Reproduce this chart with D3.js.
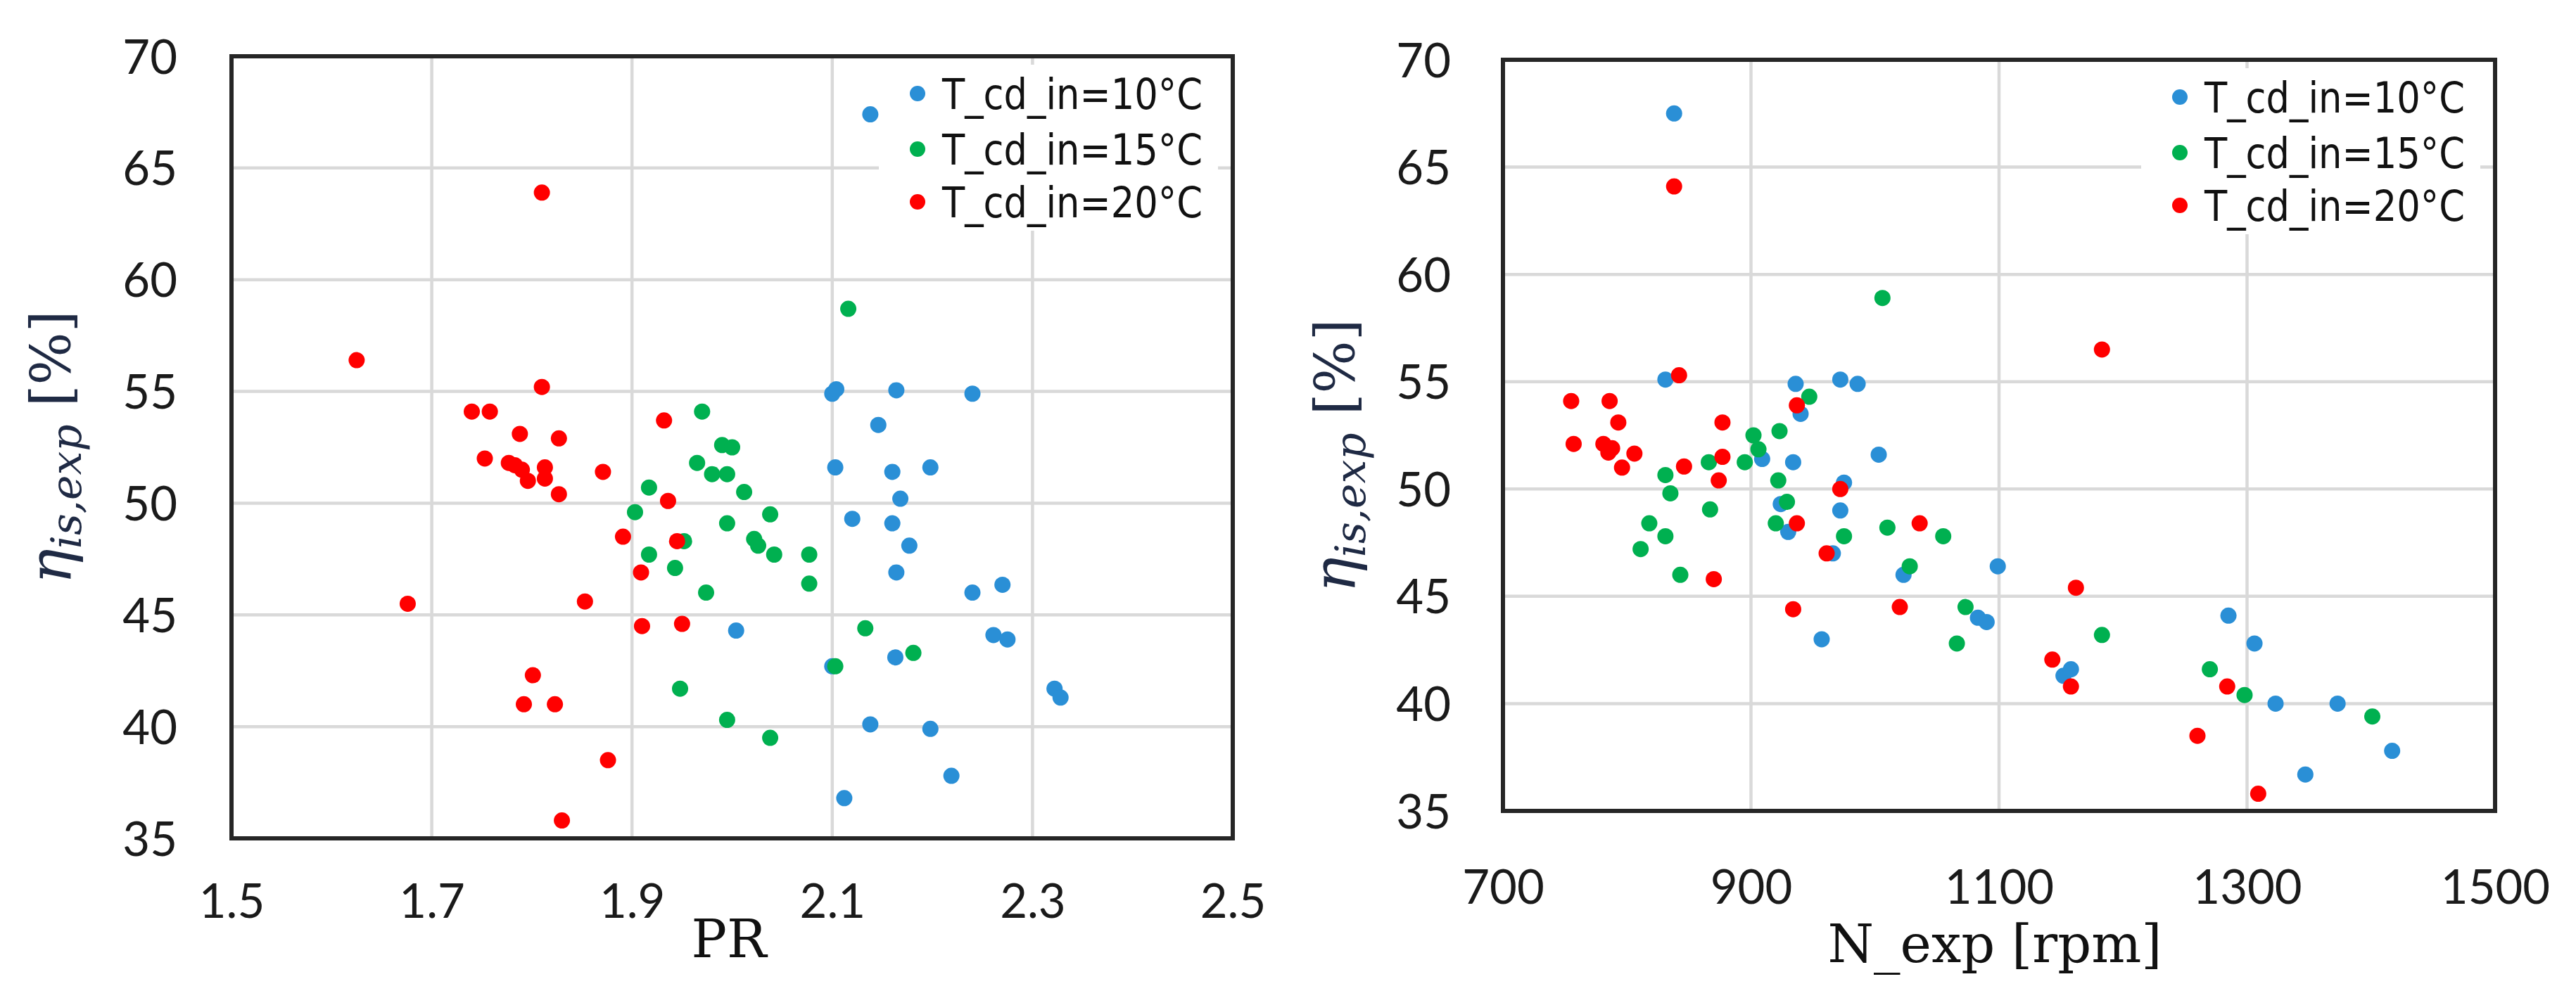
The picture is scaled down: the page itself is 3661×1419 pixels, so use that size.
<!DOCTYPE html>
<html>
<head>
<meta charset="utf-8">
<script src="https://cdn.jsdelivr.net/npm/d3@7"></script>
<style>
  body { margin: 0; background: #fff; }
  svg { display: block; }
</style>
</head>
<body>
<svg id="chart" width="3661" height="1419"></svg>
<script>
const seriesLabels = ['T_cd_in=10°C', 'T_cd_in=15°C', 'T_cd_in=20°C']
const seriesColors = ['#2a8fd6', '#00b050', '#ff0000']
const prTicks = [1.5, 1.7, 1.9, 2.1, 2.3, 2.5]
const rpmTicks = [700, 900, 1100, 1300, 1500]
const etaTicks = [35, 40, 45, 50, 55, 60, 65, 70]

// left chart: [PR, eta]
const prT10 = [[2.138, 67.4], [2.100, 54.9], [2.104, 55.1], [2.164, 55.05], [2.240, 54.9], [2.146, 53.5],
  [2.103, 51.6], [2.160, 51.4], [2.198, 51.6], [2.168, 50.2], [2.120, 49.3], [2.160, 49.1], [2.177, 48.1],
  [2.164, 46.9], [2.240, 46.0], [2.270, 46.35], [2.004, 44.3], [2.261, 44.1], [2.275, 43.9], [2.163, 43.1],
  [2.100, 42.7], [2.322, 41.7], [2.328, 41.3], [2.138, 40.1], [2.198, 39.9], [2.219, 37.8], [2.112, 36.8]]
const prT15 = [[2.116, 58.7], [1.970, 54.1], [1.990, 52.6], [2.000, 52.5], [1.965, 51.8], [1.980, 51.3],
  [1.995, 51.3], [1.917, 50.7], [2.012, 50.5], [1.903, 49.6], [1.995, 49.1], [2.038, 49.5], [1.952, 48.3],
  [2.022, 48.4], [2.026, 48.1], [2.042, 47.7], [2.077, 47.7], [1.917, 47.7], [1.943, 47.1], [2.077, 46.4],
  [1.974, 46.0], [2.133, 44.4], [2.181, 43.3], [2.103, 42.7], [1.948, 41.7], [1.995, 40.3], [2.038, 39.5]]
const prT20 = [[1.625, 56.4], [1.676, 45.5], [1.740, 54.1], [1.758, 54.1], [1.753, 52.0], [1.777, 51.8],
  [1.783, 51.7], [1.790, 51.5], [1.788, 53.1], [1.796, 51.0], [1.810, 63.9], [1.810, 55.2], [1.813, 51.6],
  [1.813, 51.1], [1.827, 52.9], [1.827, 50.4], [1.871, 51.4], [1.932, 53.7], [1.936, 50.1], [1.891, 48.5],
  [1.945, 48.3], [1.909, 46.9], [1.853, 45.6], [1.910, 44.5], [1.950, 44.6], [1.801, 42.3], [1.792, 41.0],
  [1.823, 41.0], [1.876, 38.5], [1.830, 35.8]]

// right chart: [N_exp, eta]
const rpmT10 = [[838, 67.5], [831, 55.1], [936, 54.9], [972, 55.1], [986, 54.9], [940, 53.5], [1003, 51.6],
  [934, 51.25], [909, 51.4], [975, 50.3], [972, 49.0], [924, 49.3], [930, 48.0], [966, 47.0], [1023, 46.0],
  [1099, 46.4], [1083, 44.0], [1090, 43.8], [957, 43.0], [1285, 44.1], [1306, 42.8], [1152, 41.3],
  [1158, 41.6], [1323, 40.0], [1373, 40.0], [1417, 37.8], [1347, 36.7]]
const rpmT15 = [[1006, 58.9], [947, 54.3], [902, 52.5], [906, 51.85], [923, 52.7], [866, 51.25], [895, 51.25],
  [831, 50.65], [835, 49.8], [922, 50.4], [867, 49.05], [929, 49.4], [818, 48.4], [920, 48.4], [831, 47.8],
  [811, 47.2], [843, 46.0], [975, 47.8], [1010, 48.2], [1055, 47.8], [1028, 46.4], [1073, 44.5], [1066, 42.8],
  [1183, 43.2], [1270, 41.6], [1298, 40.4], [1401, 39.4]]
const rpmT20 = [[838, 64.1], [842, 55.3], [755, 54.1], [786, 54.1], [793, 53.1], [877, 53.1], [757, 52.1],
  [781, 52.1], [788, 51.9], [785, 51.7], [806, 51.65], [796, 51.0], [846, 51.05], [877, 51.5], [874, 50.4],
  [870, 45.8], [937, 53.9], [937, 48.4], [972, 50.0], [961, 47.0], [1036, 48.4], [934, 44.4], [1020, 44.5],
  [1183, 56.5], [1162, 45.4], [1143, 42.05], [1158, 40.8], [1284, 40.8], [1260, 38.5], [1309, 35.8]]

const gridColor = '#d9d9d9'
const borderColor = '#262626'
const tickFont = 'Lato, "Open Sans", sans-serif'
const legendFont = '"DejaVu Sans", sans-serif'
const titleFont = '"DejaVu Serif", serif'
const dotRadius = 11.5

const svg = d3.select('#chart')
svg.append('rect').attr('width', 3661).attr('height', 1419).style('fill', '#fff')

let drawPanel = function (p) {
  let x = d3.scaleLinear().domain([p.xTicks[0], p.xTicks[p.xTicks.length - 1]]).range([p.left, p.right])
  let y = d3.scaleLinear().domain([35, 70]).range([p.bottom, p.top])
  let g = svg.append('g')

  // gridlines
  g.append('g').selectAll('line')
    .data(p.xTicks.slice(1, -1))
    .enter()
    .append('line')
    .attr('x1', d => x(d)).attr('x2', d => x(d))
    .attr('y1', p.top).attr('y2', p.bottom)
    .style('stroke', gridColor).style('stroke-width', 4.5)
  g.append('g').selectAll('line')
    .data(etaTicks.slice(1, -1))
    .enter()
    .append('line')
    .attr('x1', p.left).attr('x2', p.right)
    .attr('y1', d => y(d)).attr('y2', d => y(d))
    .style('stroke', gridColor).style('stroke-width', 4.5)

  // points, blue under green under red
  p.series.forEach((s, i) => {
    g.append('g')
      .selectAll('circle')
      .data(s)
      .enter()
      .append('circle')
      .attr('cx', d => x(d[0]))
      .attr('cy', d => y(d[1]))
      .attr('r', dotRadius)
      .style('fill', seriesColors[i])
  })

  // legend sits on a white box over the grid
  let lg = g.append('g')
  lg.append('rect')
    .attr('x', p.right - 503).attr('y', p.top + 12)
    .attr('width', 482).attr('height', 236)
    .style('fill', '#fff')
  let rowY = [53, 132, 207]
  seriesLabels.forEach((lab, i) => {
    lg.append('circle')
      .attr('cx', p.right - 448).attr('cy', p.top + rowY[i])
      .attr('r', 11)
      .style('fill', seriesColors[i])
    lg.append('text')
      .attr('x', p.right - 413).attr('y', p.top + rowY[i] + 22)
      .attr('textLength', 370)
      .attr('lengthAdjust', 'spacingAndGlyphs')
      .style('font-family', legendFont)
      .style('font-size', '60px')
      .style('fill', '#111')
      .text(lab)
  })

  // plot border
  g.append('rect')
    .attr('x', p.left).attr('y', p.top)
    .attr('width', p.right - p.left).attr('height', p.bottom - p.top)
    .style('fill', 'none').style('stroke', borderColor).style('stroke-width', 6)

  // axes
  let yAxis = g.append('g')
    .attr('transform', `translate(${p.left},0)`)
    .call(d3.axisLeft(y).tickValues(etaTicks).tickSize(0).tickPadding(p.yPad))
  yAxis.select('.domain').remove()
  yAxis.selectAll('text')
    .attr('dy', '0.36em')
    .style('font-family', tickFont).style('font-size', '67px').style('fill', '#1a1a1a')

  let xAxis = g.append('g')
    .attr('transform', `translate(0,${p.bottom})`)
    .call(d3.axisBottom(x).tickValues(p.xTicks).tickSize(0).tickFormat(p.xFormat))
  xAxis.select('.domain').remove()
  xAxis.selectAll('text')
    .attr('y', p.xPad).attr('dy', '0.36em')
    .style('font-family', tickFont).style('font-size', '67px').style('fill', '#1a1a1a')

  // titles
  g.append('text')
    .attr('x', p.xTitleX).attr('y', p.xTitleY)
    .attr('text-anchor', 'middle')
    .style('font-family', titleFont).style('font-size', '75px').style('fill', '#111')
    .text(p.xTitle)

  let yt = g.append('text')
    .attr('transform', `translate(${p.yTitleX},${p.yTitleY}) rotate(-90)`)
    .attr('text-anchor', 'middle')
    .style('font-family', titleFont)
    .style('fill', '#1f2a44')
  yt.append('tspan').text('η').style('font-style', 'italic').style('font-size', '84px')
  yt.append('tspan').text('is,exp').style('font-style', 'italic').style('font-size', '60px').attr('dy', 15)
  yt.append('tspan').text(' [%]').style('font-size', '79px').attr('dy', -15)
}

drawPanel({
  left: 329, right: 1752, top: 80, bottom: 1192,
  xTicks: prTicks, xFormat: d3.format('.1f'),
  series: [prT10, prT15, prT20],
  yPad: 77, xPad: 89,
  xTitle: 'PR', xTitleX: 1036, xTitleY: 1361,
  yTitleX: 100, yTitleY: 636
})

drawPanel({
  left: 2136, right: 3546, top: 85, bottom: 1153,
  xTicks: rpmTicks, xFormat: d => d,
  series: [rpmT10, rpmT15, rpmT20],
  yPad: 74, xPad: 108,
  xTitle: 'N_exp [rpm]', xTitleX: 2835, xTitleY: 1368,
  yTitleX: 1925, yTitleY: 648
})
</script>
</body>
</html>
